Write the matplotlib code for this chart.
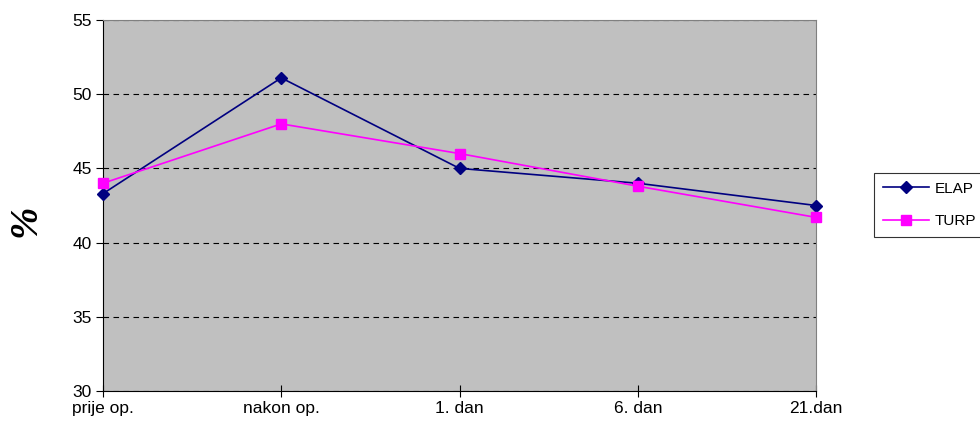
import matplotlib
matplotlib.use('Agg')
from matplotlib import pyplot as plt

days = ['prije op.', 'nakon op.', '1. dan', '6. dan', '21.dan']
elap = [43.3, 51.1, 45.0, 44.0, 42.5]
turp = [44.0, 48.0, 46.0, 43.8, 41.7]

plt.rcParams['font.family'] = ['Liberation Sans', 'DejaVu Sans']

fig = plt.figure(figsize=(9.8, 4.28), dpi=100)
ax = fig.add_axes([0.1051, 0.0864, 0.7276, 0.8669])
ax.set_facecolor('#c0c0c0')

x = list(range(len(days)))
ax.plot(x, elap, color='#000080', marker='D', markersize=6, linewidth=1.2, label='ELAP', clip_on=False, zorder=3)
ax.plot(x, turp, color='#ff00ff', marker='s', markersize=6.5, linewidth=1.2, label='TURP', clip_on=False, zorder=3)

ax.set_xlim(0, 4)
ax.set_ylim(30, 55)
ax.set_yticks([30, 35, 40, 45, 50, 55])
ax.set_xticks(x)
ax.set_xticklabels(days)
ax.yaxis.grid(True, color='black', linestyle=(0, (5, 4)), linewidth=0.8)
ax.set_axisbelow(True)

for s in ['top', 'right']:
    ax.spines[s].set_color('#808080')
for s in ['left', 'bottom']:
    ax.spines[s].set_color('black')

ax.tick_params(axis='y', direction='out', length=5, labelsize=12.5, pad=3)
ax.tick_params(axis='x', direction='inout', length=9, labelsize=12.5, pad=3)

# big "%" axis label, sits a bit below the axes centre in the original
fig.text(0.027, 0.485, '%', family=['Liberation Serif', 'DejaVu Serif'], fontsize=28,
         fontweight='bold', style='italic', rotation=90, ha='center', va='center')

leg = ax.legend(loc='center left', bbox_to_anchor=(0.892, 0.521), bbox_transform=fig.transFigure,
                frameon=True, fancybox=False, edgecolor='black', fontsize=11, handlelength=3.0,
                borderpad=0.6, labelspacing=1.2, handletextpad=0.35, borderaxespad=0)
leg.get_frame().set_linewidth(0.8)

fig.savefig('out.png', dpi=100)
